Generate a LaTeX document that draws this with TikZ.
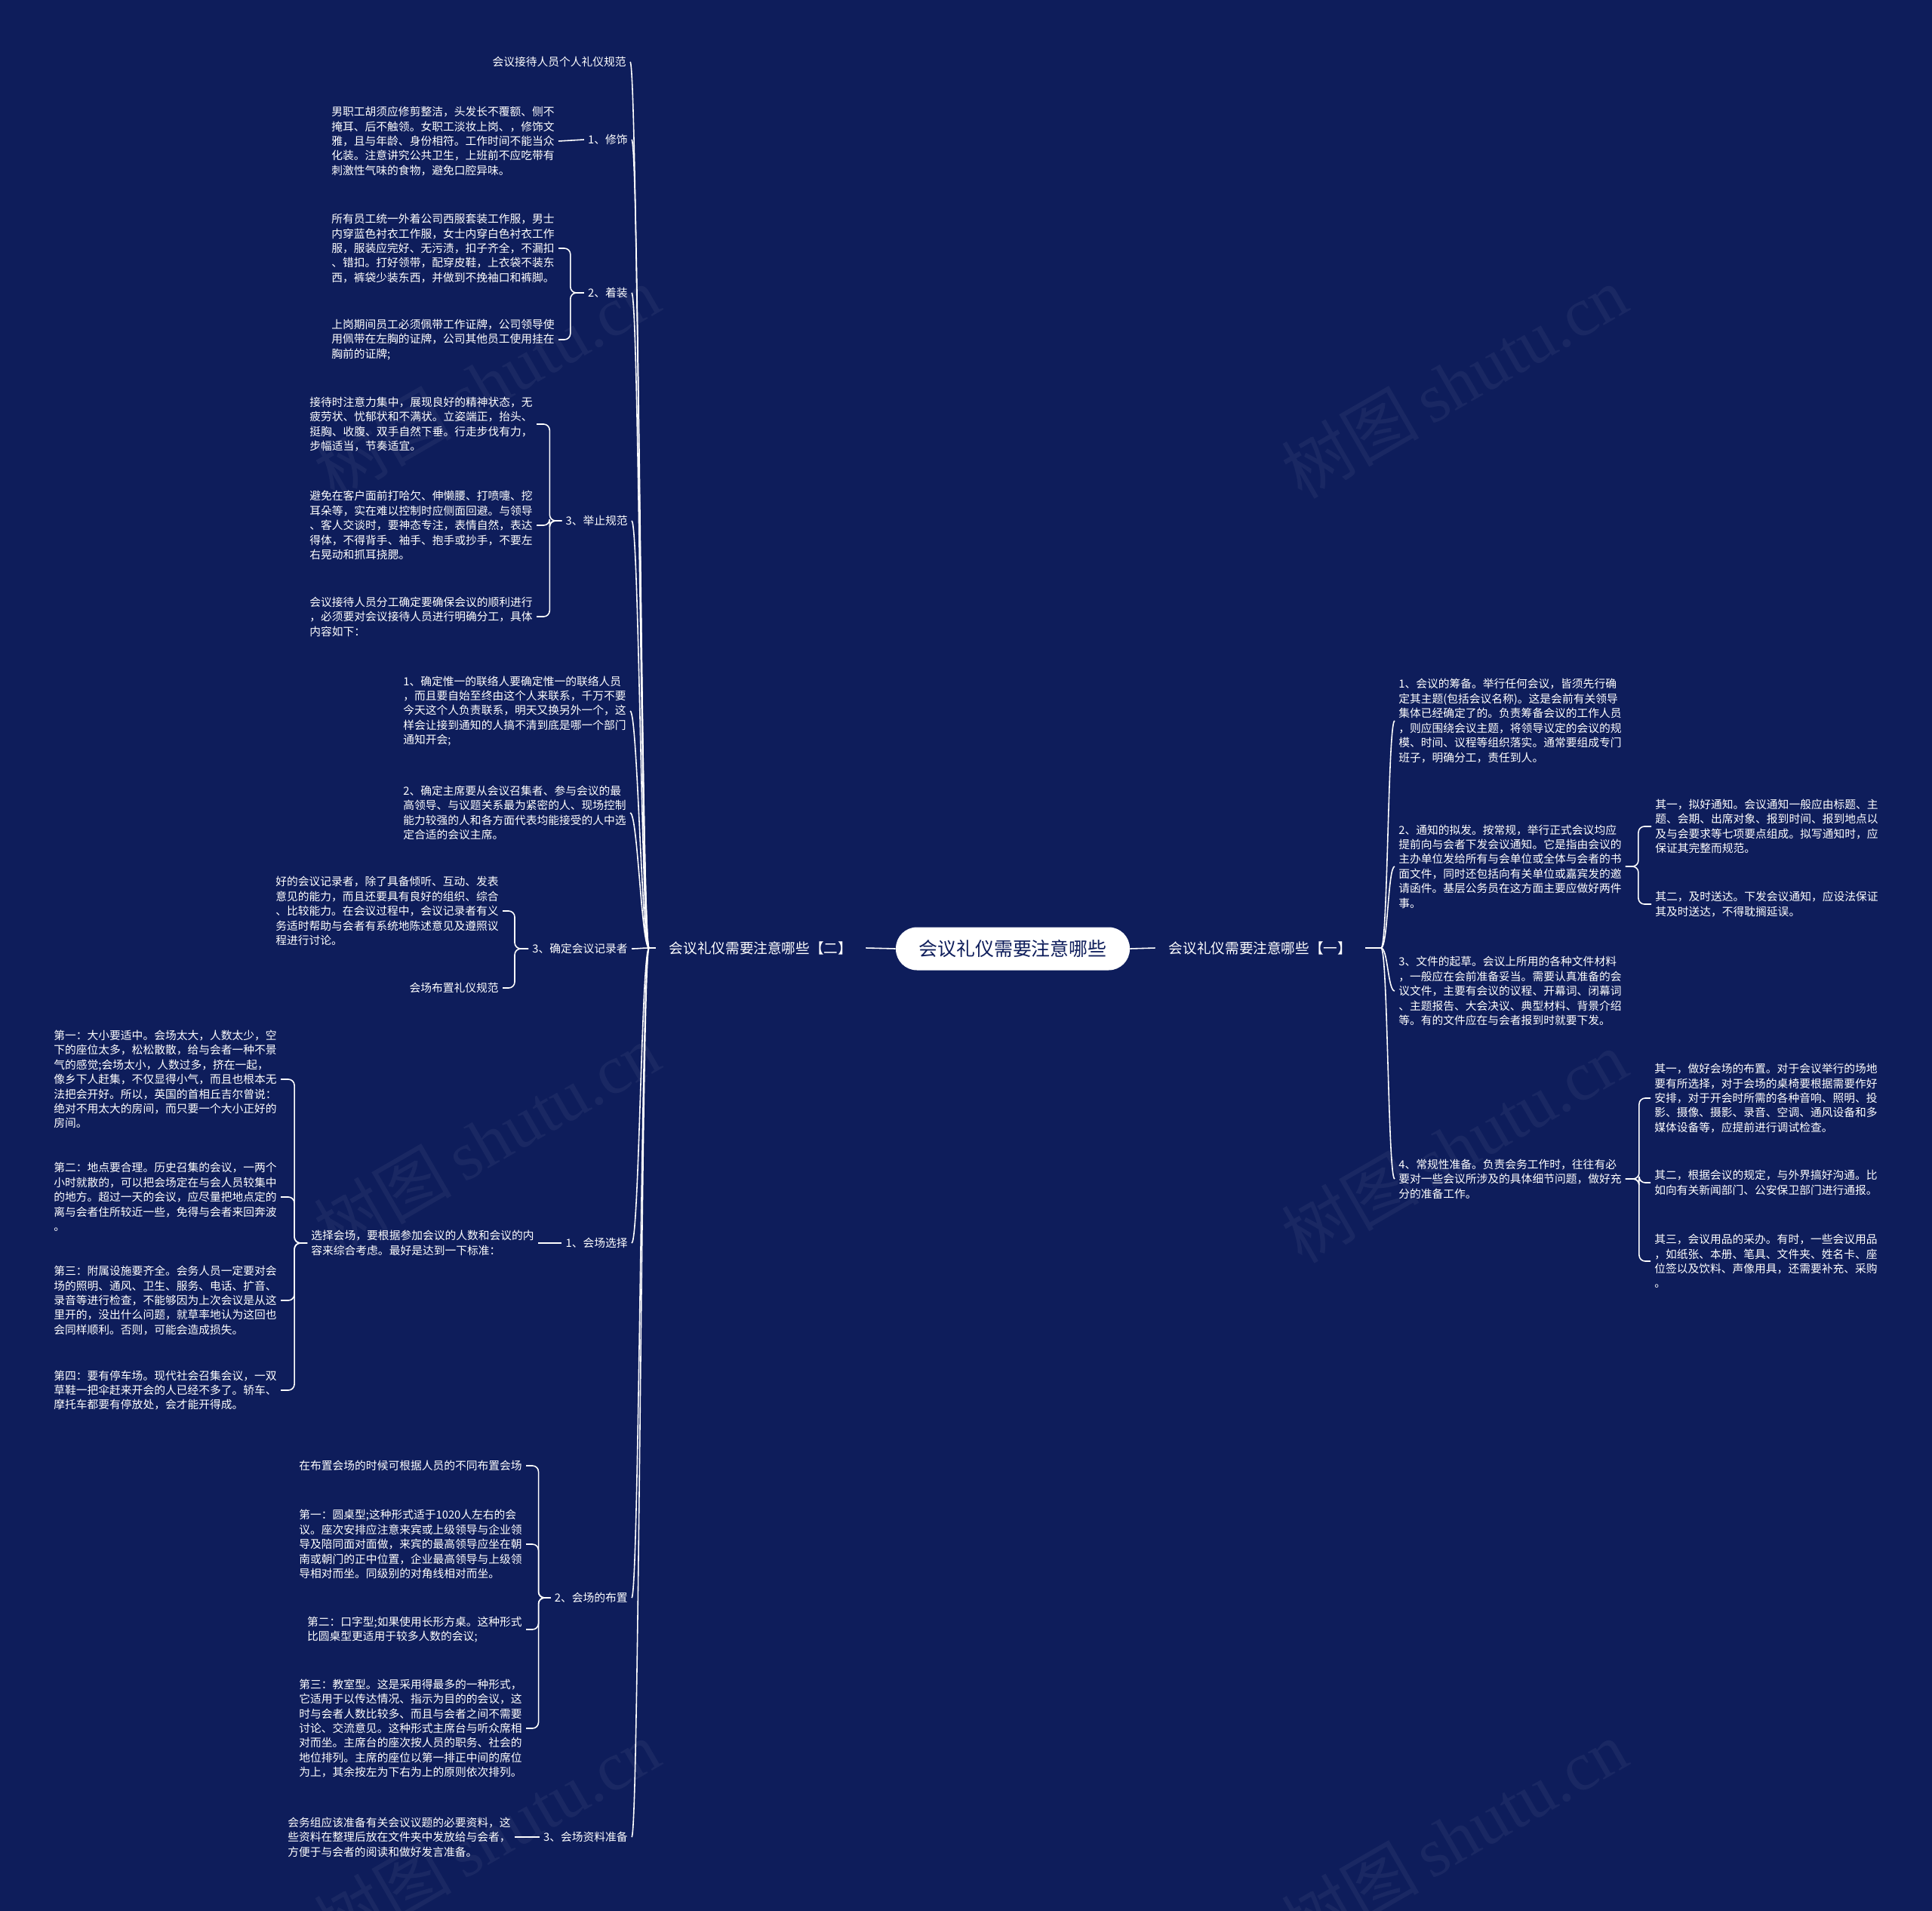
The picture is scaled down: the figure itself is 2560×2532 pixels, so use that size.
\documentclass[tikz,border=0pt]{standalone}
\usepackage{fontspec}
\setmainfont{Noto Sans CJK SC}
\newfontfamily\wmfont{Liberation Serif}
\usepackage{xcolor}
\definecolor{navy}{HTML}{0E1D5B}
\tikzset{
  rootbox/.style={fill=white, text=navy, rounded corners=5.6mm, minimum width=62mm, minimum height=11.4mm, font=\fontsize{14.2}{17}\selectfont, inner sep=0pt},
  branchbox/.style={text=white, font=\fontsize{10.6}{13}\selectfont, inner xsep=3.6mm, inner ysep=0pt},
  txt/.style={text=white, font=\fontsize{8.4}{11.06}\selectfont, align=left, inner xsep=1mm, inner ysep=0pt},
  ltxt/.style={txt, anchor=east},
  rtxt/.style={txt, anchor=west},
  link/.style={draw=white, line width=0.9pt},
  brace/.style={link, rounded corners=1.6mm},
  wmark/.style={text=white, opacity=0.05, rotate=30, font=\fontsize{52}{52}\selectfont}
}

\begin{document}
\begin{tikzpicture}[x=0.2mm, y=-0.2mm]
  \useasboundingbox (0,0) rectangle (2560,2532);
  \fill[navy] (0,0) rectangle (2560,2532);
  % watermarks
  \begin{scope}
    \clip (0,0) rectangle (2560,2532);
    \node[wmark] (wm1) at (645,506) {树图\,{\wmfont shutu.cn}};
    \node[wmark] (wm2) at (1927,506) {树图\,{\wmfont shutu.cn}};
    \node[wmark] (wm3) at (645,1510) {树图\,{\wmfont shutu.cn}};
    \node[wmark] (wm4) at (1927,1519) {树图\,{\wmfont shutu.cn}};
    \node[wmark] (wm5) at (645,2433) {树图\,{\wmfont shutu.cn}};
    \node[wmark] (wm6) at (1927,2433) {树图\,{\wmfont shutu.cn}};
  \end{scope}

  % centre and the two branches
  \node[rootbox] (root) at (1342,1257) {会议礼仪需要注意哪些};
  \node[branchbox] (b2) at (1008,1256) {会议礼仪需要注意哪些【二】};
  \node[branchbox] (b1) at (1670,1256) {会议礼仪需要注意哪些【一】};
  \draw[link] (root.west) -- (b2.east);
  \draw[link] (root.east) -- (b1.west);
  \coordinate (j2) at (860,1256);
  \coordinate (j1) at (1830,1256);
  \draw[link] (b2.west) -- (j2);
  \draw[link] (b1.east) -- (j1);

  % left side, first level
  \node[ltxt] (n1) at (835,82) {会议接待人员个人礼仪规范};
  \node[ltxt] (n2) at (837,185) {1、修饰};
  \node[ltxt] (n3) at (837,388) {2、着装};
  \node[ltxt] (n4) at (837,690) {3、举止规范};
  \node[ltxt] (n5) at (835,942) {1、确定惟一的联络人要确定惟一的联络人员\\，而且要自始至终由这个人来联系，千万不要\\今天这个人负责联系，明天又换另外一个，这\\样会让接到通知的人搞不清到底是哪一个部门\\通知开会;};
  \node[ltxt] (n6) at (835,1077) {2、确定主席要从会议召集者、参与会议的最\\高领导、与议题关系最为紧密的人、现场控制\\能力较强的人和各方面代表均能接受的人中选\\定合适的会议主席。};
  \node[ltxt] (n7) at (837,1257) {3、确定会议记录者};
  \node[ltxt] (n8) at (837,1647) {1、会场选择};
  \node[ltxt] (n9) at (837,2117) {2、会场的布置};
  \node[ltxt] (n10) at (837,2434) {3、会场资料准备};
  \foreach \c in {n1,n2,n3,n4,n5,n6,n7,n8,n9,n10}
    \draw[link] (j2) .. controls +(-10,0) and +(10,0) .. (\c.east);

  % left side, second level
  \node[ltxt] (n2a) at (740,187) {男职工胡须应修剪整洁，头发长不覆额、侧不\\掩耳、后不触领。女职工淡妆上岗、，修饰文\\雅，且与年龄、身份相符。工作时间不能当众\\化装。注意讲究公共卫生，上班前不应吃带有\\刺激性气味的食物，避免口腔异味。};
  \draw[link] (n2.west) -- (n2a.east);

  \node[ltxt] (n3a) at (740,329) {所有员工统一外着公司西服套装工作服，男士\\内穿蓝色衬衣工作服，女士内穿白色衬衣工作\\服，服装应完好、无污渍，扣子齐全，不漏扣\\、错扣。打好领带，配穿皮鞋，上衣袋不装东\\西，裤袋少装东西，并做到不挽袖口和裤脚。};
  \node[ltxt] (n3b) at (740,450) {上岗期间员工必须佩带工作证牌，公司领导使\\用佩带在左胸的证牌，公司其他员工使用挂在\\胸前的证牌;};
  \foreach \c in {n3a,n3b}
    \draw[brace] (n3.west) -- ++(-18,0) |- (\c.east);

  \node[ltxt] (n4a) at (711,562) {接待时注意力集中，展现良好的精神状态，无\\疲劳状、忧郁状和不满状。立姿端正，抬头、\\挺胸、收腹、双手自然下垂。行走步伐有力，\\步幅适当，节奏适宜。};
  \node[ltxt] (n4b) at (711,696) {避免在客户面前打哈欠、伸懒腰、打喷嚏、挖\\耳朵等，实在难以控制时应侧面回避。与领导\\、客人交谈时，要神态专注，表情自然，表达\\得体，不得背手、袖手、抱手或抄手，不要左\\右晃动和抓耳挠腮。};
  \node[ltxt] (n4c) at (711,817) {会议接待人员分工确定要确保会议的顺利进行\\，必须要对会议接待人员进行明确分工，具体\\内容如下：};
  \foreach \c in {n4a,n4b,n4c}
    \draw[brace] (n4.west) -- ++(-16,0) |- (\c.east);

  \node[ltxt] (n7a) at (666,1207) {好的会议记录者，除了具备倾听、互动、发表\\意见的能力，而且还要具有良好的组织、综合\\、比较能力。在会议过程中，会议记录者有义\\务适时帮助与会者有系统地陈述意见及遵照议\\程进行讨论。};
  \node[ltxt] (n7b) at (666,1309) {会场布置礼仪规范};
  \foreach \c in {n7a,n7b}
    \draw[brace] (n7.west) -- ++(-18,0) |- (\c.east);

  \node[ltxt] (n8a) at (713,1647) {选择会场，要根据参加会议的人数和会议的内\\容来综合考虑。最好是达到一下标准：};
  \draw[link] (n8.west) -- (n8a.east);
  \node[ltxt] (n8a1) at (372,1430) {第一：大小要适中。会场太大，人数太少，空\\下的座位太多，松松散散，给与会者一种不景\\气的感觉;会场太小，人数过多，挤在一起，\\像乡下人赶集，不仅显得小气，而且也根本无\\法把会开好。所以，英国的首相丘吉尔曾说：\\绝对不用太大的房间，而只要一个大小正好的\\房间。};
  \node[ltxt] (n8a2) at (372,1586) {第二：地点要合理。历史召集的会议，一两个\\小时就散的，可以把会场定在与会人员较集中\\的地方。超过一天的会议，应尽量把地点定的\\离与会者住所较近一些，免得与会者来回奔波\\。};
  \node[ltxt] (n8a3) at (372,1723) {第三：附属设施要齐全。会务人员一定要对会\\场的照明、通风、卫生、服务、电话、扩音、\\录音等进行检查，不能够因为上次会议是从这\\里开的，没出什么问题，就草率地认为这回也\\会同样顺利。否则，可能会造成损失。};
  \node[ltxt] (n8a4) at (372,1842) {第四：要有停车场。现代社会召集会议，一双\\草鞋一把伞赶来开会的人已经不多了。轿车、\\摩托车都要有停放处，会才能开得成。};
  \foreach \c in {n8a1,n8a2,n8a3,n8a4}
    \draw[brace] (n8a.west) -- ++(-17,0) |- (\c.east);

  \node[ltxt] (n9a) at (697,1942) {在布置会场的时候可根据人员的不同布置会场};
  \node[ltxt] (n9b) at (697,2046) {第一：圆桌型;这种形式适于1020人左右的会\\议。座次安排应注意来宾或上级领导与企业领\\导及陪同面对面做，来宾的最高领导应坐在朝\\南或朝门的正中位置，企业最高领导与上级领\\导相对而坐。同级别的对角线相对而坐。};
  \node[ltxt] (n9c) at (697,2159) {第二：口字型;如果使用长形方桌。这种形式\\比圆桌型更适用于较多人数的会议;};
  \node[ltxt] (n9d) at (697,2290) {第三：教室型。这是采用得最多的一种形式，\\它适用于以传达情况、指示为目的的会议，这\\时与会者人数比较多、而且与会者之间不需要\\讨论、交流意见。这种形式主席台与听众席相\\对而坐。主席台的座次按人员的职务、社会的\\地位排列。主席的座位以第一排正中间的席位\\为上，其余按左为下右为上的原则依次排列。};
  \foreach \c in {n9a,n9b,n9c,n9d}
    \draw[brace] (n9.west) -- ++(-16,0) |- (\c.east);

  \node[ltxt] (n10a) at (682,2434) {会务组应该准备有关会议议题的必要资料，这\\些资料在整理后放在文件夹中发放给与会者，\\方便于与会者的阅读和做好发言准备。};
  \draw[link] (n10.west) -- (n10a.east);

  % right side
  \node[rtxt] (m1) at (1848,955) {1、会议的筹备。举行任何会议，皆须先行确\\定其主题(包括会议名称)。这是会前有关领导\\集体已经确定了的。负责筹备会议的工作人员\\，则应围绕会议主题，将领导议定的会议的规\\模、时间、议程等组织落实。通常要组成专门\\班子，明确分工，责任到人。};
  \node[rtxt] (m2) at (1848,1148) {2、通知的拟发。按常规，举行正式会议均应\\提前向与会者下发会议通知。它是指由会议的\\主办单位发给所有与会单位或全体与会者的书\\面文件，同时还包括向有关单位或嘉宾发的邀\\请函件。基层公务员在这方面主要应做好两件\\事。};
  \node[rtxt] (m3) at (1848,1313) {3、文件的起草。会议上所用的各种文件材料\\，一般应在会前准备妥当。需要认真准备的会\\议文件，主要有会议的议程、开幕词、闭幕词\\、主题报告、大会决议、典型材料、背景介绍\\等。有的文件应在与会者报到时就要下发。};
  \node[rtxt] (m4) at (1848,1562) {4、常规性准备。负责会务工作时，往往有必\\要对一些会议所涉及的具体细节问题，做好充\\分的准备工作。};
  \foreach \c in {m1,m2,m3,m4}
    \draw[link] (j1) .. controls +(9,0) and +(-9,0) .. (\c.west);

  \node[rtxt] (m2a) at (2188,1095) {其一，拟好通知。会议通知一般应由标题、主\\题、会期、出席对象、报到时间、报到地点以\\及与会要求等七项要点组成。拟写通知时，应\\保证其完整而规范。};
  \node[rtxt] (m2b) at (2188,1198) {其二，及时送达。下发会议通知，应设法保证\\其及时送达，不得耽搁延误。};
  \foreach \c in {m2a,m2b}
    \draw[brace] (m2.east) -- ++(17,0) |- (\c.west);

  \node[rtxt] (m4a) at (2187,1455) {其一，做好会场的布置。对于会议举行的场地\\要有所选择，对于会场的桌椅要根据需要作好\\安排，对于开会时所需的各种音响、照明、投\\影、摄像、摄影、录音、空调、通风设备和多\\媒体设备等，应提前进行调试检查。};
  \node[rtxt] (m4b) at (2187,1567) {其二，根据会议的规定，与外界搞好沟通。比\\如向有关新闻部门、公安保卫部门进行通报。};
  \node[rtxt] (m4c) at (2187,1671) {其三，会议用品的采办。有时，一些会议用品\\，如纸张、本册、笔具、文件夹、姓名卡、座\\位签以及饮料、声像用具，还需要补充、采购\\。};
  \foreach \c in {m4a,m4b,m4c}
    \draw[brace] (m4.east) -- ++(18,0) |- (\c.west);
\end{tikzpicture}
\end{document}
